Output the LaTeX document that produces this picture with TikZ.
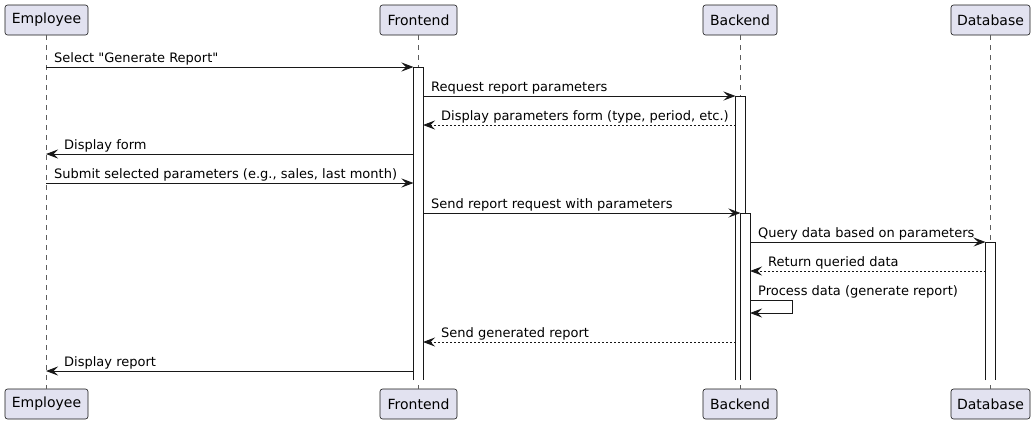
\documentclass[tikz,border=0pt]{standalone}
\usepackage{fontspec}
\setmainfont{DejaVu Sans}
\usetikzlibrary{arrows.meta}
\definecolor{ink}{HTML}{181818}
\definecolor{partfill}{HTML}{E2E2F0}
\begin{document}
\begin{tikzpicture}[x=1pt,y=-1pt,
  part/.style={draw=ink, fill=partfill, rounded corners=2.5pt, line width=0.6pt,
    minimum height=30pt, inner sep=0pt, font=\fontsize{14}{16}\selectfont, text=black},
  life/.style={draw=ink!70, line width=0.5pt, dash pattern=on 5pt off 5pt},
  actbar/.style={draw=ink, line width=0.8pt},
  msg/.style={draw=ink, line width=0.9pt, -{Stealth[length=12pt,width=9pt,inset=4.5pt]}},
  ret/.style={msg, dash pattern=on 2pt off 2pt},
  lbl/.style={font=\fontsize{13}{15}\selectfont, inner sep=0pt, anchor=base west, text=black}]
\useasboundingbox (0,0) rectangle (1035,424);
% participants
\node[part, minimum width=83pt] (empT) at (46.5,20) {Employee};
\node[part, minimum width=77pt] (froT) at (418.5,20) {Frontend};
\node[part, minimum width=74pt] (bacT) at (740,20) {Backend};
\node[part, minimum width=79pt] (datT) at (990.5,20) {Database};
\node[part, minimum width=83pt] (empB) at (46.5,404) {Employee};
\node[part, minimum width=77pt] (froB) at (418.5,404) {Frontend};
\node[part, minimum width=74pt] (bacB) at (740,404) {Backend};
\node[part, minimum width=79pt] (datB) at (990.5,404) {Database};
% lifelines
\draw[life] (46,35) -- (46,389);
\draw[life] (418,35) -- (418,389);
\draw[life] (740,35) -- (740,389);
\draw[life] (990.5,35) -- (990.5,389);
% activation bars (open at the bottom)
\fill[white] (413.5,67) rectangle (423,380);
\draw[actbar] (413.5,380) -- (413.5,67) -- (423,67) -- (423,380);
\fill[white] (735.5,96) rectangle (745,380);
\draw[actbar] (735.5,380) -- (735.5,96) -- (745,96) -- (745,380);
\fill[white] (740.5,213) rectangle (750,380);
\draw[actbar] (740.5,380) -- (740.5,213) -- (750,213) -- (750,380);
\fill[white] (985.5,242) rectangle (995,380);
\draw[actbar] (985.5,380) -- (985.5,242) -- (995,242) -- (995,380);
% coordinates
\coordinate (e1) at (46,67);   \coordinate (f1) at (413.5,67);
\coordinate (f2) at (423,96);  \coordinate (b2) at (735.5,96);
\coordinate (b3) at (735.5,125); \coordinate (f3) at (423,125);
\coordinate (f4) at (413.5,154); \coordinate (e4) at (46,154);
\coordinate (e5) at (46,183);  \coordinate (f5) at (413.5,183);
\coordinate (f6) at (423,213); \coordinate (b6) at (740.5,213);
\coordinate (b7) at (750,242); \coordinate (d7) at (985.5,242);
\coordinate (d8) at (985.5,271); \coordinate (b8) at (750,271);
\coordinate (b9s) at (750,300); \coordinate (b9e) at (750,313);
\coordinate (b10) at (735.5,342); \coordinate (f10) at (423,342);
\coordinate (f11) at (413.5,371); \coordinate (e11) at (46,371);
% messages
\draw[msg] (e1) -- (f1);
\node[lbl] (l1) at (54,62) {Select \textquotedbl Generate Report\textquotedbl};
\draw[msg] (f2) -- (b2);
\node[lbl] (l2) at (431,91) {Request report parameters};
\draw[ret] (b3) -- (f3);
\node[lbl] (l3) at (441,120) {Display parameters form (type, period, etc.)};
\draw[msg] (f4) -- (e4);
\node[lbl] (l4) at (64,149) {Display form};
\draw[msg] (e5) -- (f5);
\node[lbl] (l5) at (54,178) {Submit selected parameters (e.g., sales, last month)};
\draw[msg] (f6) -- (b6);
\node[lbl] (l6) at (431,208) {Send report request with parameters};
\draw[msg] (b7) -- (d7);
\node[lbl] (l7) at (758,237) {Query data based on parameters};
\draw[ret] (d8) -- (b8);
\node[lbl] (l8) at (768,266) {Return queried data};
\draw[msg] (b9s) -- ++(42,0) |- (b9e);
\node[lbl] (l9) at (758,295) {Process data (generate report)};
\draw[ret] (b10) -- (f10);
\node[lbl] (l10) at (441,337) {Send generated report};
\draw[msg] (f11) -- (e11);
\node[lbl] (l11) at (64,366) {Display report};
\end{tikzpicture}
\end{document}
